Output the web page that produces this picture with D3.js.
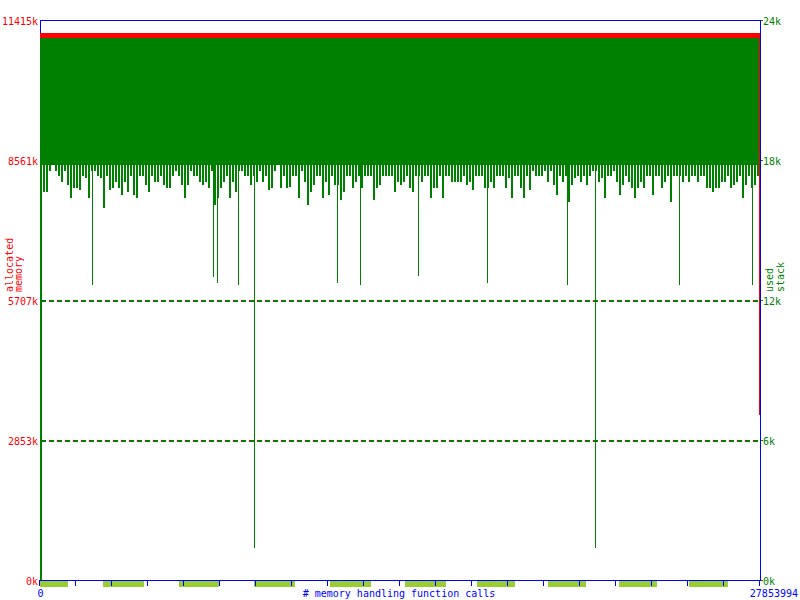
<!DOCTYPE html>
<html><head><meta charset="utf-8">
<script src="https://cdn.jsdelivr.net/npm/d3@7"></script>
<style>
body{margin:0;background:#fff}
svg{display:block}
text{font-family:"DejaVu Sans Mono",monospace;font-size:10px}
</style>
</head><body><svg id="c" width="800" height="600"></svg>
<script>
// ---------- data ----------
const totalCalls = 27853994;
const memTickValues = [0, 2853, 5707, 8561, 11415];
const memTickLabels = ["0k", "2853k", "5707k", "8561k", "11415k"];
const stackTickValues = [0, 6, 12, 18, 24];
const stackTickLabels = ["0k", "6k", "12k", "18k", "24k"];
const gridValues = [2853, 5707];
const xTickCount = 20;
const xEndLabels = ["0", "27853994"];
const xTitle = "# memory handling function calls";
const leftTitle = ["allocated", "memory"];
const rightTitle = ["used", "stack"];

// total allocated memory (k): dense band and final value
const memoryBand = [11058, 11140];
const memoryEnd = 3360;

// used stack (k): upper envelope, solid lower edge, and per-bin lower values (240 bins)
const stackHigh = 23.25;
const stackBase = 17.79;
const stackLows = [
 17.43,16.64,16.64,17.53,17.79,17.53,17.31,17.07,17.53,16.93,
 16.36,16.79,16.79,16.71,17.31,17.21,16.36,17.53,17.53,17.31,
 17.21,15.93,17.31,16.71,16.79,17.07,16.79,16.50,17.07,16.64,
 17.31,16.50,16.36,17.31,17.31,16.93,16.64,17.31,17.07,17.07,
 17.31,16.93,16.79,16.79,17.31,17.53,17.31,16.93,16.36,16.93,
 17.53,17.31,17.31,17.07,16.93,17.07,16.79,17.53,16.07,16.36,
 16.79,17.07,17.31,16.36,17.07,16.64,17.53,17.53,17.31,17.31,
 16.93,17.31,17.07,17.53,17.07,17.31,16.71,16.79,17.53,17.79,
 16.79,17.31,16.79,16.86,17.31,17.31,16.36,17.53,17.07,16.07,
 16.64,16.93,17.31,17.31,16.36,17.07,16.50,17.31,16.93,16.93,
 16.29,16.64,17.31,17.31,16.79,17.07,17.31,16.79,17.31,17.31,
 17.31,16.29,16.79,16.93,17.31,17.31,17.31,17.31,16.64,17.07,
 16.93,17.07,17.31,16.79,16.64,17.31,17.31,17.07,17.31,17.31,
 16.36,16.79,16.79,17.31,16.36,17.31,17.31,17.07,17.07,17.07,
 17.07,17.31,16.93,17.07,16.71,17.31,17.31,17.31,16.79,16.79,
 17.07,16.79,17.31,17.31,17.31,16.79,17.21,16.36,17.31,17.31,
 16.79,16.36,17.31,16.71,17.53,17.31,17.31,17.31,17.53,17.07,
 17.53,16.93,16.50,17.31,17.07,17.31,16.21,16.93,17.21,17.31,
 17.07,17.31,16.93,17.31,17.53,17.53,17.07,17.21,16.36,17.31,
 17.31,17.53,17.07,16.50,16.93,17.31,17.07,16.79,16.36,16.79,
 17.07,16.79,17.31,17.31,16.50,17.31,17.31,16.79,17.07,17.31,
 16.21,17.31,17.31,17.31,17.07,17.31,17.07,17.31,17.31,17.07,
 17.31,17.31,16.79,16.79,16.64,16.79,16.79,17.07,17.07,17.31,
 16.79,16.93,17.07,17.31,16.36,16.93,17.31,16.79,16.93,17.31
];
// isolated deep dips of the stack
const spikeCalls  = [2050000, 6731000, 6886000, 7660000, 8279000, 11528000, 12380000, 14662000, 17331000, 20388000, 21471000, 24759000, 27545000];
const spikeValues = [12.64,   12.99,   12.73,   12.64,   1.37,    12.73,    12.64,    13.03,    12.73,    12.64,    1.37,     12.64,    12.64];

// markers under the x axis (start call, end call)
const blockStarts = [0, 2437224, 5377368, 8278824, 11218970, 14120430, 16905830, 19652540, 22399250, 25107280];
const blockEnds   = [1044525, 3984669, 6886126, 9826269, 12766410, 15667870, 18337210, 21083920, 23830690, 26577350];

// ---------- drawing ----------
const RED = "#ff0000", GREEN = "#008000", BLUE = "#0000ff", BLOCK = "#9acd32";
const svg = d3.select("#c");
const x = d3.scaleLinear().domain([0, totalCalls]).range([40, 760]);
const memY = d3.scaleLinear().domain([0, 11415]).range([580, 20]);
const stackY = d3.scaleLinear().domain([0, 24]).range([580, 20]);
const px = v => Math.round(v);

const g = svg.append("g").attr("shape-rendering", "crispEdges");

// time blocks under the axis
g.selectAll("rect.blk").data(blockStarts).join("rect")
  .attr("class", "blk")
  .attr("x", d => px(x(d)))
  .attr("width", (d, i) => px(x(blockEnds[i])) - px(x(d)) + 1)
  .attr("y", 581).attr("height", 6)
  .attr("fill", BLOCK);

// frame
const frame = g.append("g").attr("stroke", BLUE).attr("stroke-width", 1).attr("fill", "none");
frame.append("line").attr("x1", 40).attr("x2", 761).attr("y1", 20.5).attr("y2", 20.5);
frame.append("line").attr("x1", 760.5).attr("x2", 760.5).attr("y1", 20).attr("y2", 581);
frame.append("line").attr("x1", 40).attr("x2", 761).attr("y1", 580.5).attr("y2", 580.5);
frame.append("line").attr("x1", 40.5).attr("x2", 40.5).attr("y1", 20).attr("y2", 581);

// x ticks
const tickVals = d3.range(0, xTickCount + 1).map(k => k * totalCalls / xTickCount);
g.selectAll("line.xt").data(tickVals).join("line")
  .attr("class", "xt")
  .attr("x1", d => px(x(d)) - 0.5).attr("x2", d => px(x(d)) - 0.5)
  .attr("y1", 580).attr("y2", 586)
  .attr("stroke", BLUE);

// dashed horizontal lines
gridValues.forEach(v => {
  const yy = px(memY(v)) + 1;
  g.append("line").attr("x1", 41).attr("x2", 760).attr("y1", yy).attr("y2", yy)
    .attr("stroke", GREEN).attr("stroke-width", 2).attr("stroke-dasharray", "0,1,4,3");
  g.append("line").attr("x1", 41).attr("x2", 760).attr("y1", yy).attr("y2", yy)
    .attr("stroke", RED).attr("stroke-width", 2).attr("stroke-dasharray", "1,7");
});

// red: start rise
g.append("line").attr("x1", 40.5).attr("x2", 40.5)
  .attr("y1", memY(0)).attr("y2", px(memY(memoryBand[1])))
  .attr("stroke", RED);

// green stack: solid part
const binW = totalCalls / stackLows.length;
const topY = px(stackY(stackHigh));
g.append("rect")
  .attr("x", px(x(0))).attr("width", px(x(totalCalls)) - px(x(0)) - 1)
  .attr("y", topY).attr("height", px(stackY(stackBase)) - topY)
  .attr("fill", GREEN);
// green stack: per-bin lower values
g.selectAll("rect.bin").data(stackLows).join("rect")
  .attr("class", "bin")
  .attr("x", (d, i) => px(x(i * binW)))
  .attr("width", 2)
  .attr("y", topY)
  .attr("height", d => px(stackY(d)) - topY)
  .attr("fill", GREEN);
// green stack: deep dips
g.selectAll("line.sp").data(spikeCalls).join("line")
  .attr("class", "sp")
  .attr("x1", d => Math.floor(x(d)) + 0.5).attr("x2", d => Math.floor(x(d)) + 0.5)
  .attr("y1", topY).attr("y2", (d, i) => px(stackY(spikeValues[i])))
  .attr("stroke", GREEN);
// green start rise
g.append("rect").attr("x", 40).attr("width", 2)
  .attr("y", topY).attr("height", stackY(0) - topY).attr("fill", GREEN);

// red memory band
const bandTop = px(memY(memoryBand[1]));
const bandBot = px(memY(memoryBand[0]));
g.append("rect")
  .attr("x", px(x(0))).attr("width", px(x(totalCalls)) - px(x(0)))
  .attr("y", bandTop).attr("height", bandBot - bandTop)
  .attr("fill", RED);
// red final drop
g.append("line").attr("x1", px(x(totalCalls)) - 0.5).attr("x2", px(x(totalCalls)) - 0.5)
  .attr("y1", bandTop).attr("y2", px(memY(memoryEnd)))
  .attr("stroke", RED);

// right axis small ticks
g.selectAll("line.rt").data(stackTickValues).join("line")
  .attr("class", "rt")
  .attr("x1", 761).attr("x2", 763)
  .attr("y1", d => px(stackY(d)) + 0.5).attr("y2", d => px(stackY(d)) + 0.5)
  .attr("stroke", GREEN);

// ---------- text ----------
svg.selectAll("text.ml").data(memTickValues).join("text")
  .attr("class", "ml")
  .attr("x", 38).attr("y", d => memY(d) + 5)
  .attr("text-anchor", "end").attr("fill", RED)
  .text((d, i) => memTickLabels[i]);

svg.selectAll("text.sl").data(stackTickValues).join("text")
  .attr("class", "sl")
  .attr("x", 763).attr("y", d => stackY(d) + 5)
  .attr("text-anchor", "start").attr("fill", GREEN)
  .text((d, i) => stackTickLabels[i]);

svg.append("text").attr("x", x(0) + 0.5).attr("y", 597)
  .attr("text-anchor", "middle").attr("fill", BLUE).text(xEndLabels[0]);
svg.append("text").attr("x", 798).attr("y", 597)
  .attr("text-anchor", "end").attr("fill", BLUE).text(xEndLabels[1]);
svg.append("text").attr("x", 399).attr("y", 597)
  .attr("text-anchor", "middle").attr("fill", BLUE).text(xTitle);

[[12.5, leftTitle[0], RED], [21.5, leftTitle[1], RED],
 [772.5, rightTitle[0], GREEN], [784, rightTitle[1], GREEN]].forEach(([tx, t, c]) => {
  svg.append("text")
    .attr("transform", `translate(${tx},292) rotate(-90)`)
    .attr("text-anchor", "start").attr("fill", c).text(t);
});
</script>
</body></html>
